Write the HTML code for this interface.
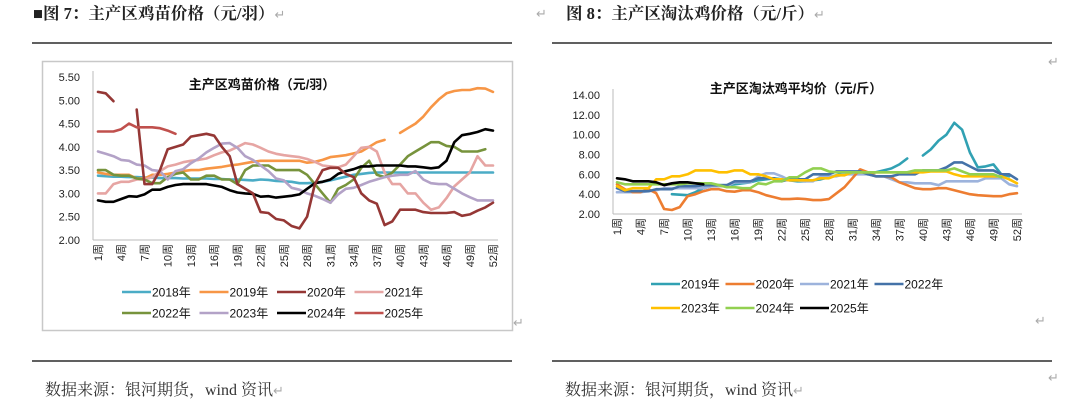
<!DOCTYPE html>
<html><head><meta charset="utf-8">
<style>
html,body{margin:0;padding:0;background:#fff;width:1080px;height:412px;overflow:hidden}
svg{display:block}
.t{font-family:"Liberation Serif","Noto Serif CJK SC",serif;font-weight:bold;font-size:16.5px;fill:#222}
.src{font-family:"Liberation Serif","Noto Serif CJK SC",serif;font-size:16px;fill:#333}
.ax{font-family:"Liberation Sans","Noto Sans CJK SC",sans-serif;font-size:11px;fill:#222}
.ct{font-family:"Liberation Sans","Noto Sans CJK SC",sans-serif;font-size:13px;font-weight:bold;fill:#111}
.lg{font-family:"Liberation Sans","Noto Sans CJK SC",sans-serif;font-size:12px;fill:#111}
.ret{font-family:"Liberation Sans",sans-serif;font-size:13px;fill:#aaa;font-weight:normal}
</style></head>
<body>
<svg id="svg" width="1080" height="412" xmlns="http://www.w3.org/2000/svg">
<text x="33" y="19" class="t">■图 7：主产区鸡苗价格（元/羽）<tspan class="ret">↵</tspan></text>
<text x="536" y="18" class="ret">↵</text>
<text x="566" y="19" class="t">图 8：主产区淘汰鸡价格（元/斤）<tspan class="ret">↵</tspan></text>
<line x1="32" y1="43" x2="512" y2="43" stroke="#000" stroke-width="1.2"/>
<line x1="552" y1="43" x2="1052" y2="43" stroke="#000" stroke-width="1.2"/>
<line x1="32" y1="361" x2="512" y2="361" stroke="#000" stroke-width="1.2"/>
<line x1="552" y1="361" x2="1052" y2="361" stroke="#000" stroke-width="1.2"/>
<rect x="42.5" y="61.5" width="470" height="269" fill="none" stroke="#c8c8c8" stroke-width="1.5"/>
<text x="45" y="395" class="src">数据来源：银河期货，wind 资讯<tspan class="ret">↵</tspan></text>
<text x="565" y="395" class="src">数据来源：银河期货，wind 资讯<tspan class="ret">↵</tspan></text>
<text x="513" y="327" class="ret">↵</text>
<text x="1048" y="66" class="ret">↵</text>
<text x="1035" y="325" class="ret">↵</text>
<text x="1048" y="382" class="ret">↵</text>
<text x="262" y="89" text-anchor="middle" class="ct">主产区鸡苗价格（元/羽）</text>
<text x="796" y="93" text-anchor="middle" class="ct">主产区淘汰鸡平均价（元/斤）</text>
<g id="L"></g><g id="R"></g>
</svg>
<script>
var n=null;
var weeks=[];for(var i=1;i<=52;i++)weeks.push(i);
var leftTicks=[2.00,2.50,3.00,3.50,4.00,4.50,5.00,5.50];
var L2018=[3.38,3.37,3.36,3.36,3.35,3.35,3.34,3.34,3.33,3.33,3.33,3.32,3.32,3.32,3.32,3.31,3.31,3.30,3.30,3.29,3.28,3.30,3.29,3.27,3.26,3.25,3.22,3.22,3.23,3.25,3.28,3.32,3.36,3.40,3.42,3.44,3.45,3.45,3.45,3.45,3.45,3.45,3.45,3.45,3.45,3.45,3.45,3.45,3.45,3.45,3.45,3.45];
var L2019=[3.45,3.42,3.40,3.40,3.40,3.32,3.32,3.40,3.40,3.42,3.45,3.48,3.50,3.50,3.53,3.55,3.57,3.60,3.62,3.65,3.68,3.70,3.70,3.70,3.70,3.70,3.70,3.66,3.68,3.72,3.78,3.80,3.82,3.86,3.90,4.00,4.10,4.15,n,4.30,4.40,4.50,4.65,4.85,5.02,5.15,5.20,5.22,5.22,5.26,5.25,5.18];
var L2020=[n,n,n,n,n,4.80,3.20,3.20,3.50,3.95,4.00,4.05,4.22,4.25,4.28,4.24,4.00,3.80,3.20,3.10,3.00,2.60,2.58,2.45,2.42,2.30,2.25,2.50,3.20,3.50,3.55,3.55,3.42,3.35,3.00,2.85,2.78,2.32,2.40,2.65,2.65,2.65,2.60,2.58,2.58,2.58,2.60,2.52,2.55,2.63,2.70,2.80];
var L2021=[3.00,3.00,3.20,3.25,3.25,3.30,3.30,3.35,3.48,3.58,3.62,3.67,3.70,3.72,3.75,3.82,3.88,3.92,4.00,4.08,4.05,3.98,3.90,3.85,3.82,3.80,3.78,3.74,3.68,3.60,3.58,3.56,3.62,3.80,3.98,4.00,3.90,3.45,3.20,3.20,3.00,3.00,2.80,2.65,2.70,2.90,3.15,3.30,3.45,3.80,3.60,3.60];
var L2022=[3.50,3.50,3.40,3.38,3.38,3.32,3.30,3.22,3.22,3.35,3.42,3.45,3.30,3.30,3.38,3.38,3.30,3.30,3.20,3.50,3.60,3.60,3.60,3.50,3.50,3.50,3.50,3.40,3.20,3.00,2.80,3.10,3.18,3.30,3.55,3.70,3.40,3.35,3.45,3.62,3.80,3.90,4.00,4.10,4.10,4.02,4.00,3.90,3.90,3.90,3.95,n];
var L2023=[3.90,3.85,3.80,3.72,3.70,3.62,3.60,3.50,3.48,3.30,3.48,3.52,3.65,3.75,3.88,3.98,4.07,4.08,3.98,3.80,3.72,3.60,3.48,3.32,3.28,3.12,3.08,3.00,2.95,2.88,2.80,2.98,3.10,3.12,3.18,3.25,3.30,3.35,3.38,3.40,3.40,3.48,3.30,3.22,3.20,3.20,3.10,3.00,2.92,2.85,2.85,2.85];
var L2024=[2.85,2.82,2.82,2.88,2.94,2.93,2.98,3.08,3.08,3.14,3.18,3.20,3.20,3.20,3.20,3.17,3.14,3.07,3.02,3.00,2.99,2.93,2.94,2.91,2.93,2.95,2.98,3.10,3.22,3.25,3.30,3.42,3.48,3.52,3.58,3.58,3.60,3.60,3.60,3.60,3.58,3.58,3.56,3.54,3.56,3.70,4.10,4.25,4.28,4.32,4.38,4.35];
var L2025=[4.33,4.33,4.33,4.38,4.50,4.42,4.42,4.42,4.40,4.35,4.28];
var L2025b=[5.18,5.15,4.98];
var rightTicks=[2.00,4.00,6.00,8.00,10.00,12.00,14.00];
var R2019=[n,n,n,n,n,n,n,4.00,3.95,3.90,4.20,4.60,4.80,4.90,4.90,5.00,5.10,5.20,5.40,5.50,5.60,5.50,5.40,5.30,5.30,5.40,5.50,5.70,5.90,6.10,6.20,6.10,6.00,6.20,6.40,6.60,7.00,7.60,n,7.90,8.50,9.40,10.00,11.20,10.50,8.20,6.70,6.80,7.00,6.00,5.80,n];
var R2020=[5.00,4.50,4.20,4.20,4.50,4.10,2.50,2.40,2.70,3.80,4.00,4.30,4.50,4.50,4.30,4.25,4.40,4.40,4.20,3.90,3.70,3.50,3.50,3.55,3.50,3.40,3.40,3.50,4.10,4.70,5.60,6.50,6.20,5.80,5.80,5.70,5.20,4.90,4.60,4.50,4.50,4.60,4.60,4.40,4.20,4.00,3.90,3.85,3.80,3.80,4.00,4.10];
var R2021=[4.20,4.20,4.20,4.20,4.30,4.40,4.60,4.60,4.60,4.60,4.60,4.60,4.80,4.80,4.80,5.20,5.20,5.20,5.80,6.10,6.10,5.80,5.40,5.40,5.30,5.30,5.80,5.80,5.80,6.00,6.00,6.00,6.00,5.80,5.80,5.50,5.20,5.20,5.10,5.10,5.10,4.90,5.30,5.30,5.30,5.30,5.30,5.60,5.60,5.60,5.00,4.80];
var R2022=[4.60,4.30,4.30,4.30,4.30,4.50,4.50,4.50,4.80,4.80,4.80,4.90,4.90,4.90,4.90,5.30,5.30,5.30,5.60,5.60,5.60,5.30,5.50,5.50,5.50,6.00,6.00,6.00,6.30,6.30,6.30,6.30,6.00,5.80,5.80,5.80,6.00,6.00,6.00,6.40,6.40,6.40,6.70,7.20,7.20,6.80,6.40,6.40,6.40,6.00,6.00,5.50];
var R2023=[4.80,4.40,4.60,4.60,4.60,5.50,5.50,5.80,5.80,6.00,6.40,6.40,6.40,6.20,6.20,6.40,6.40,6.00,6.00,5.80,5.50,5.50,5.40,5.40,5.40,5.40,5.60,5.60,5.90,5.90,6.20,6.20,6.20,6.20,6.20,6.20,6.20,6.20,6.20,6.20,6.30,6.30,6.30,6.00,5.80,5.80,5.80,5.80,5.80,5.80,5.50,5.10];
var R2024=[5.20,5.00,5.00,5.00,5.00,5.00,5.00,5.00,5.00,5.10,5.10,5.10,5.10,4.90,4.70,4.70,4.60,4.60,5.10,5.00,5.30,5.30,5.70,5.70,6.20,6.60,6.60,6.30,6.20,6.20,6.20,6.20,6.20,6.20,6.20,6.20,6.20,6.20,6.40,6.40,6.40,6.40,6.40,6.60,6.30,6.00,6.00,6.00,6.00,5.70,n,n];
var R2025=[5.60,5.50,5.30,5.30,5.30,5.20,4.90,5.10,5.20,5.20,5.10,5.00];

var NS="http://www.w3.org/2000/svg";
function mk(parent,tag,attrs){var e=document.createElementNS(NS,tag);for(var k in attrs)e.setAttribute(k,attrs[k]);parent.appendChild(e);return e;}

function chart(gid,cfg,series,legendItems){
  var g=document.getElementById(gid);
  function X(w){return cfg.x0+(w-1)*(cfg.x1-cfg.x0)/51;}
  function Y(v){return cfg.yb-(v-cfg.ymin)*(cfg.yb-cfg.yt)/(cfg.ymax-cfg.ymin);}
  var ya=mk(g,'line',{x1:cfg.ax,y1:Y(cfg.ymax)-6,x2:cfg.ax,y2:Y(cfg.ymin),stroke:'#bbb','stroke-width':1});
  
  
  var xa=mk(g,'line',{x1:cfg.ax,y1:Y(cfg.ymin),x2:cfg.x1+5,y2:Y(cfg.ymin),stroke:'#bbb','stroke-width':1});
  
  
  cfg.ticks.forEach(function(t){
    var tx=mk(g,'text',{x:cfg.lx,y:Y(t)+4,'text-anchor':'end','class':'ax'});
    tx.textContent=t.toFixed(2);
    
    
  });
  weeks.forEach(function(w){
    if((w-1)%3!==0)return;
    var x=X(w), y=Y(cfg.ymin)+4;
    var tx=mk(g,'text',{x:x+4,y:y,'text-anchor':'end','class':'ax',transform:'rotate(-90 '+(x+4)+' '+y+')'});
    tx.textContent=w+'周';
    
    
  });
  series.forEach(function(s){
    var d='',pen=false;
    s.data.forEach(function(v,i){
      if(v===null){pen=false;return;}
      d+=(pen?'L':'M')+X(i+1).toFixed(1)+' '+Y(v).toFixed(1)+' ';pen=true;
    });
    var p=mk(g,'path',{d:d,fill:'none',stroke:s.c,'stroke-width':2.6,'stroke-linejoin':'round','stroke-linecap':'round'});
    
    
  });
  legendItems.forEach(function(it,i){
    var col=i%cfg.lcols,row=Math.floor(i/cfg.lcols);
    var x=cfg.lgx+col*cfg.lgdx,y=cfg.lgy+row*cfg.lgdy;
    var le=mk(g,'line',{x1:x,y1:y,x2:x+29,y2:y,stroke:it.c,'stroke-width':2.6});
    
    
    var tx=mk(g,'text',{x:x+30,y:y+4.5,'class':'lg'});
    tx.textContent=it.n+'年';
    
    
  });
}
var cL={'2018':'#4bacc6','2019':'#f79646','2020':'#953735','2021':'#e6a5a3','2022':'#77933c','2023':'#b3a2c7','2024':'#000000','2025':'#c0504d'};
chart('L',{x0:98,x1:493,ax:93,lx:80,yb:240,yt:77,ymin:2,ymax:5.5,ticks:leftTicks,lcols:4,lgx:122,lgdx:77.5,lgy:292,lgdy:21},
 [{n:'2018',c:cL['2018'],data:L2018},{n:'2019',c:cL['2019'],data:L2019},{n:'2021',c:cL['2021'],data:L2021},{n:'2022',c:cL['2022'],data:L2022},{n:'2023',c:cL['2023'],data:L2023},{n:'2024',c:cL['2024'],data:L2024},{n:'2020',c:cL['2020'],data:L2020},{n:'2025',c:cL['2025'],data:L2025},{n:'2025b',c:cL['2020'],data:L2025b}],
 ['2018','2019','2020','2021','2022','2023','2024','2025'].map(function(k){return {n:k,c:cL[k]};}));
var cR={'2019':'#31a1b3','2020':'#ed7d31','2021':'#9db3dc','2022':'#4472a8','2023':'#ffc000','2024':'#92d050','2025':'#000000'};
chart('R',{x0:617,x1:1017,ax:613,lx:600,yb:214,yt:95,ymin:2,ymax:14,ticks:rightTicks,lcols:4,lgx:651,lgdx:74.5,lgy:284,lgdy:24},
 [{n:'2019',c:cR['2019'],data:R2019},{n:'2021',c:cR['2021'],data:R2021},{n:'2020',c:cR['2020'],data:R2020},{n:'2022',c:cR['2022'],data:R2022},{n:'2023',c:cR['2023'],data:R2023},{n:'2024',c:cR['2024'],data:R2024},{n:'2025',c:cR['2025'],data:R2025}],
 ['2019','2020','2021','2022','2023','2024','2025'].map(function(k){return {n:k,c:cR[k]};}));
</script>
</body></html>
